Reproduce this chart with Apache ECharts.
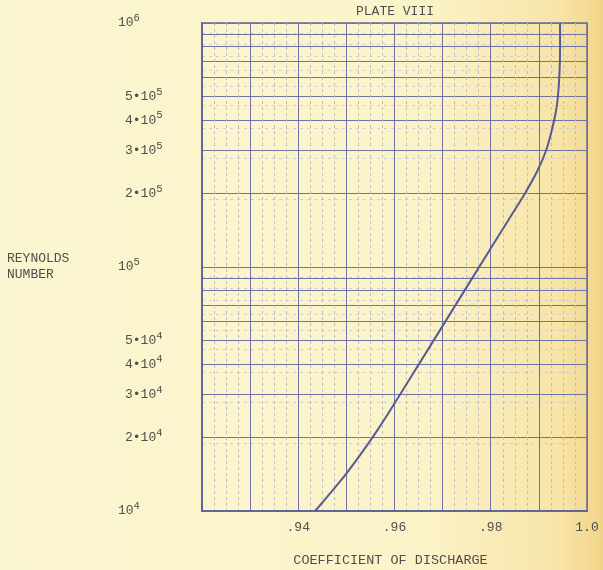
<!DOCTYPE html>
<html><head><meta charset="utf-8">
<script src="https://cdn.jsdelivr.net/npm/echarts@6/dist/echarts.min.js"></script>
<style>html,body{margin:0;padding:0;background:#faf3cc;} #c{width:603px;height:570px;}</style>
</head><body><div id="c"></div>
<script>
// ---- data ----
const titleText = 'PLATE VIII';
const xAxisTitle = 'COEFFICIENT OF DISCHARGE';
const yAxisTitle = 'REYNOLDS\nNUMBER';

// curve: coefficient of discharge vs Reynolds number
const coefficient = [0.9435, 0.9466, 0.9497, 0.9528, 0.9560, 0.9598, 0.9674, 0.9757, 0.9840, 0.9871, 0.9896, 0.9915, 0.9928, 0.9937, 0.9941, 0.9943, 0.9944, 0.9944];
const reynolds    = [10000, 11800, 14000, 16900, 20800, 27200, 47400, 87100, 159600, 200300, 245600, 300300, 371300, 452600, 541500, 641900, 775000, 1000000];

// x ticks
const xTickValues = [0.94, 0.96, 0.98, 1.0];
const xTickLabels = ['.94', '.96', '.98', '1.0'];

// y ticks (labels)
const yTickValues   = [10000, 20000, 30000, 40000, 50000, 100000, 200000, 300000, 400000, 500000, 1000000];
const yTickMantissa = [1, 2, 3, 4, 5, 1, 2, 3, 4, 5, 1];
const yTickExponent = [4, 4, 4, 4, 4, 5, 5, 5, 5, 5, 6];

// y grid lines (log paper rulings)
const yGridValues = [10000, 20000, 30000, 40000, 50000, 60000, 70000, 80000, 90000,
                     100000, 200000, 300000, 400000, 500000, 600000, 700000, 800000, 900000,
                     1000000];

// ---- chart ----
const FONT = '"Liberation Mono", "DejaVu Sans Mono", monospace';
const TXT = '#4e4e4e';
const GRID = '#6f73a4';

function findIdx(arr, v) {
  for (let i = 0; i < arr.length; i++) {
    if (Math.abs(v - arr[i]) <= Math.abs(arr[i]) * 1e-6 + 1e-9) return i;
  }
  return -1;
}

const chart = echarts.init(document.getElementById('c'), null, {renderer: 'canvas'});
const option = {
  backgroundColor: {
    type: 'linear', x: 0, y: 0, x2: 1, y2: 0,
    colorStops: [
      {offset: 0, color: '#fbf6d2'},
      {offset: 0.7, color: '#fbf3c8'},
      {offset: 0.93, color: '#f7e4a8'},
      {offset: 1, color: '#f2d488'}
    ]
  },
  animation: false,
  title: {
    text: titleText, left: 351, top: 0,
    textStyle: {fontFamily: FONT, fontSize: 13, fontWeight: 'normal', color: TXT}
  },
  grid: {
    left: 202, right: 16, top: 23, bottom: 59,
    containLabel: false, outerBoundsMode: 'none',
    show: true, borderColor: '#666a9c', borderWidth: 1.5, backgroundColor: 'transparent'
  },
  xAxis: {
    type: 'value', min: 0.92, max: 1.0, interval: 0.01,
    name: xAxisTitle, nameLocation: 'middle', nameGap: 42,
    nameTextStyle: {fontFamily: FONT, fontSize: 13.5, color: TXT, padding: [0, 8, 0, 0]},
    axisLine: {show: true, lineStyle: {color: '#62669a', width: 2}},
    axisTick: {show: false},
    axisLabel: {
      customValues: xTickValues,
      margin: 10,
      fontFamily: FONT, fontSize: 13, color: TXT,
      formatter: function (v) {
        const i = findIdx(xTickValues, v);
        return i >= 0 ? xTickLabels[i] : '';
      }
    },
    splitLine: {show: true, lineStyle: {color: GRID, width: 1}},
    minorTick: {show: false, splitNumber: 4},
    minorSplitLine: {show: true, lineStyle: {color: '#bcbccd', width: 1, type: [3, 3]}}
  },
  yAxis: {
    type: 'log', logBase: 10, min: 10000, max: 1000000,
    name: yAxisTitle, nameLocation: 'middle', nameGap: 195, nameRotate: 0,
    nameTextStyle: {fontFamily: FONT, fontSize: 13, color: TXT, align: 'left', lineHeight: 16, padding: [0, 0, 22, 0]},
    axisLine: {show: true, lineStyle: {color: '#62669a', width: 2}},
    axisTick: {show: false, customValues: yGridValues},
    splitLine: {show: true, lineStyle: {color: GRID, width: 1}},
    minorTick: {show: false, splitNumber: 10},
    minorSplitLine: {show: true, lineStyle: {color: '#cfcdd6', width: 1, type: [3, 4]}},
    axisLabel: {
      customValues: yTickValues,
      align: 'left', margin: 84,
      fontFamily: FONT, color: TXT,
      formatter: function (v) {
        const i = findIdx(yTickValues, v);
        if (i < 0) return '';
        const e = yTickExponent[i];
        if (yTickMantissa[i] === 1) return '{b|10}{s|' + e + '}';
        return '{m|' + yTickMantissa[i] + '•}{b|10}{s|' + e + '}';
      },
      rich: {
        m: {fontFamily: FONT, fontSize: 13, color: TXT, lineHeight: 20, padding: [0, 0, 0, 7]},
        b: {fontFamily: FONT, fontSize: 13, color: TXT, lineHeight: 20},
        s: {fontFamily: FONT, fontSize: 10.5, color: TXT, lineHeight: 10, verticalAlign: 'top'}
      }
    }
  },
  series: [{
    type: 'line',
    data: coefficient.map((c, i) => [c, reynolds[i]]),
    showSymbol: false,
    smooth: 0.25,
    lineStyle: {color: '#575b92', width: 2},
    z: 5
  }]
};
chart.setOption(option);
</script>
</body></html>
